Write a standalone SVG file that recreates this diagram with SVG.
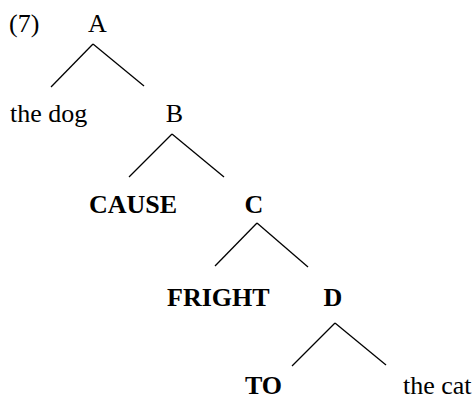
<svg xmlns="http://www.w3.org/2000/svg" width="476" height="401" viewBox="0 0 476 401">
<style>
text{font-family:"Liberation Serif","Times New Roman",serif;font-size:26px;fill:#000}
.b{font-weight:bold}
.m{text-anchor:middle}
#edges line{stroke:#000;stroke-width:1.3}
</style>
<rect width="476" height="401" fill="#fff"/>
<text x="9" y="32">(7)</text>
<g id="edges">
<line x1="93" y1="44" x2="51" y2="87"/>
<line x1="93" y1="44" x2="144" y2="86"/>
<line x1="172" y1="134" x2="129" y2="177"/>
<line x1="172" y1="134" x2="224" y2="177"/>
<line x1="257" y1="223" x2="215" y2="266"/>
<line x1="257" y1="223" x2="308" y2="267"/>
<line x1="335" y1="323" x2="292" y2="366"/>
<line x1="335" y1="323" x2="386" y2="365"/>
</g>
<g id="A"><text class="m" x="97.5" y="32">A</text></g>
<g id="thedog"><text x="10" y="122">the dog</text></g>
<g id="B"><text class="m" x="174.5" y="122">B</text></g>
<g id="CAUSE"><text class="b" x="89" y="213">CAUSE</text></g>
<g id="C"><text class="b m" x="254" y="213">C</text></g>
<g id="FRIGHT"><text class="b" x="167" y="306">FRIGHT</text></g>
<g id="D"><text class="b m" x="333" y="306">D</text></g>
<g id="TO"><text class="b" x="245" y="394">TO</text></g>
<g id="thecat"><text x="403" y="394">the cat</text></g>
</svg>
